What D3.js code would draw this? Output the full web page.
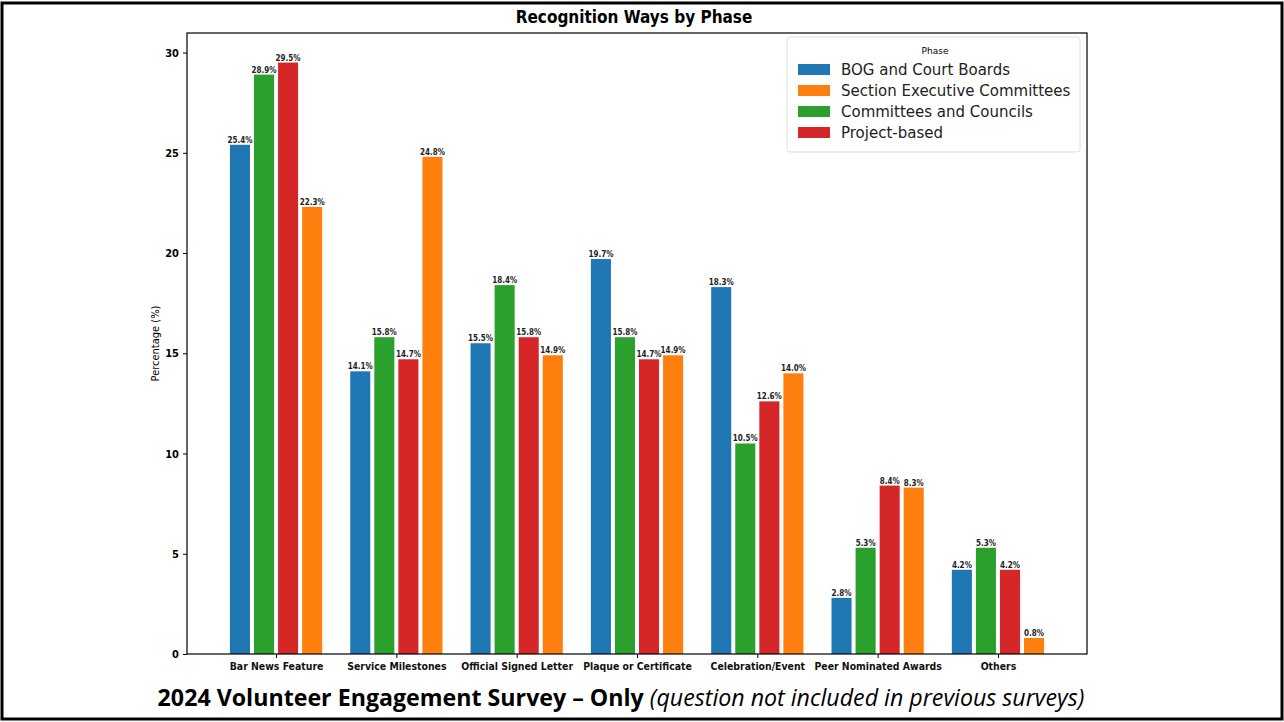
<!DOCTYPE html>
<html>
<head>
<meta charset="utf-8">
<script src="https://cdn.jsdelivr.net/npm/d3@7"></script>
<style>
  body { margin: 0; background: #fff; }
  svg { display: block; }
</style>
</head>
<body>
<div id="chart"></div>
<script>
const categories = ["Bar News Feature", "Service Milestones", "Official Signed Letter",
  "Plaque or Certificate", "Celebration/Event", "Peer Nominated Awards", "Others"];

// legend order
const phases = ["BOG and Court Boards", "Section Executive Committees",
  "Committees and Councils", "Project-based"];
// order the bars are drawn in each group
const barOrder = ["BOG and Court Boards", "Committees and Councils",
  "Project-based", "Section Executive Committees"];

const bogValues = [25.4, 14.1, 15.5, 19.7, 18.3, 2.8, 4.2];
const sectionValues = [22.3, 24.8, 14.9, 14.9, 14.0, 8.3, 0.8];
const committeeValues = [28.9, 15.8, 18.4, 15.8, 10.5, 5.3, 5.3];
const projectValues = [29.5, 14.7, 15.8, 14.7, 12.6, 8.4, 4.2];

const yTicks = [0, 5, 10, 15, 20, 25, 30];

const seriesValues = {
  "BOG and Court Boards": bogValues,
  "Section Executive Committees": sectionValues,
  "Committees and Councils": committeeValues,
  "Project-based": projectValues
};
const colors = {
  "BOG and Court Boards": "#1f77b4",
  "Section Executive Committees": "#ff7f0e",
  "Committees and Councils": "#2ca02c",
  "Project-based": "#d62728"
};

const W = 1284, H = 722;
const plot = { left: 187, right: 1087, top: 33, bottom: 654 };

const svg = d3.select("#chart").append("svg")
  .attr("width", W)
  .attr("height", H);

// outer frame
svg.append("rect")
  .attr("x", 2).attr("y", 3)
  .attr("width", W - 4).attr("height", H - 6)
  .attr("fill", "none")
  .attr("stroke", "#000")
  .attr("stroke-width", 3);

const barWidth = 0.2;
const xScale = d3.scaleLinear()
  .domain([-0.74, categories.length - 1 + 0.74])
  .range([plot.left, plot.right]);

const yScale = d3.scaleLinear()
  .domain([0, 30.975])
  .range([plot.bottom, plot.top]);

const bars = [];
categories.forEach((c, i) => {
  barOrder.forEach((p, j) => {
    bars.push({ cat: c, phase: p, x: i + (j - 1.5) * barWidth, value: seriesValues[p][i] });
  });
});

const g = svg.append("g");

g.selectAll("rect.bar")
  .data(bars)
  .enter()
  .append("rect")
  .attr("class", "bar")
  .attr("x", (d) => xScale(d.x - barWidth / 2) + 2)
  .attr("width", (d) => xScale(barWidth) - xScale(0) - 4)
  .attr("y", (d) => yScale(d.value))
  .attr("height", (d) => yScale(0) - yScale(d.value))
  .attr("fill", (d) => colors[d.phase]);

g.selectAll("text.val")
  .data(bars)
  .enter()
  .append("text")
  .attr("class", "val")
  .attr("x", (d) => xScale(d.x))
  .attr("y", (d) => yScale(d.value) - 2)
  .attr("text-anchor", "middle")
  .style("font-family", "DejaVu Sans Condensed, DejaVu Sans, sans-serif")
  .style("font-size", "8px")
  .style("font-weight", "bold")
  .attr("fill", "#222")
  .text((d) => d.value.toFixed(1) + "%");

// y axis
svg.append("g")
  .attr("transform", `translate(${plot.left},0)`)
  .call(d3.axisLeft(yScale).tickValues(yTicks).tickSize(4).tickPadding(4).tickFormat(d3.format("d")))
  .call((a) => a.select(".domain").remove())
  .call((a) => a.selectAll("text")
    .style("font-family", "DejaVu Sans Condensed, DejaVu Sans, sans-serif")
    .style("font-size", "11px")
    .style("font-weight", "bold")
    .attr("fill", "#000"));

// x axis
svg.append("g")
  .attr("transform", `translate(0,${plot.bottom})`)
  .call(d3.axisBottom(xScale).tickValues(d3.range(categories.length))
    .tickSize(4).tickPadding(5).tickFormat((i) => categories[i]))
  .call((a) => a.select(".domain").remove())
  .call((a) => a.selectAll("text")
    .style("font-family", "DejaVu Sans Condensed, DejaVu Sans, sans-serif")
    .style("font-size", "10.4px")
    .style("font-weight", "bold")
    .attr("fill", "#111"));

// plot frame
svg.append("rect")
  .attr("x", plot.left).attr("y", plot.top)
  .attr("width", plot.right - plot.left)
  .attr("height", plot.bottom - plot.top)
  .attr("fill", "none")
  .attr("stroke", "#000")
  .attr("stroke-width", 1.2);

// y label
svg.append("text")
  .attr("transform", `translate(159,${(plot.top + plot.bottom) / 2}) rotate(-90)`)
  .attr("text-anchor", "middle")
  .style("font-family", "DejaVu Sans Condensed, DejaVu Sans, sans-serif")
  .style("font-size", "11px")
  .text("Percentage (%)");

// title
svg.append("text")
  .attr("x", 634)
  .attr("y", 23)
  .attr("text-anchor", "middle")
  .style("font-family", "DejaVu Sans Condensed, DejaVu Sans, sans-serif")
  .style("font-size", "17px")
  .style("font-weight", "bold")
  .text("Recognition Ways by Phase");

// legend
const lg = svg.append("g").attr("transform", "translate(787,37)");
lg.append("rect")
  .attr("width", 293).attr("height", 115)
  .attr("rx", 3)
  .attr("fill", "#fff")
  .attr("fill-opacity", 0.8)
  .attr("stroke", "#ddd");
lg.append("text")
  .attr("x", 148).attr("y", 17)
  .attr("text-anchor", "middle")
  .style("font-family", "DejaVu Sans, sans-serif")
  .style("font-size", "9px")
  .text("Phase");
const items = lg.selectAll("g.item")
  .data(phases)
  .enter()
  .append("g")
  .attr("class", "item")
  .attr("transform", (d, i) => `translate(0,${33 + i * 21})`);
items.append("rect")
  .attr("x", 11).attr("y", -6)
  .attr("width", 32).attr("height", 11)
  .attr("fill", (d) => colors[d]);
items.append("text")
  .attr("x", 54).attr("y", 5)
  .style("font-family", "DejaVu Sans, sans-serif")
  .style("font-size", "15px")
  .attr("fill", "#222")
  .text((d) => d);

// footer
const foot = svg.append("text")
  .attr("x", 621)
  .attr("y", 706)
  .attr("text-anchor", "middle")
  .style("font-family", "Open Sans, sans-serif")
  .style("font-size", "23.2px");
foot.append("tspan").style("font-weight", "bold").text("2024 Volunteer Engagement Survey \u2013 Only ");
foot.append("tspan").style("font-style", "italic").text("(question not included in previous surveys)");
</script>
</body>
</html>
